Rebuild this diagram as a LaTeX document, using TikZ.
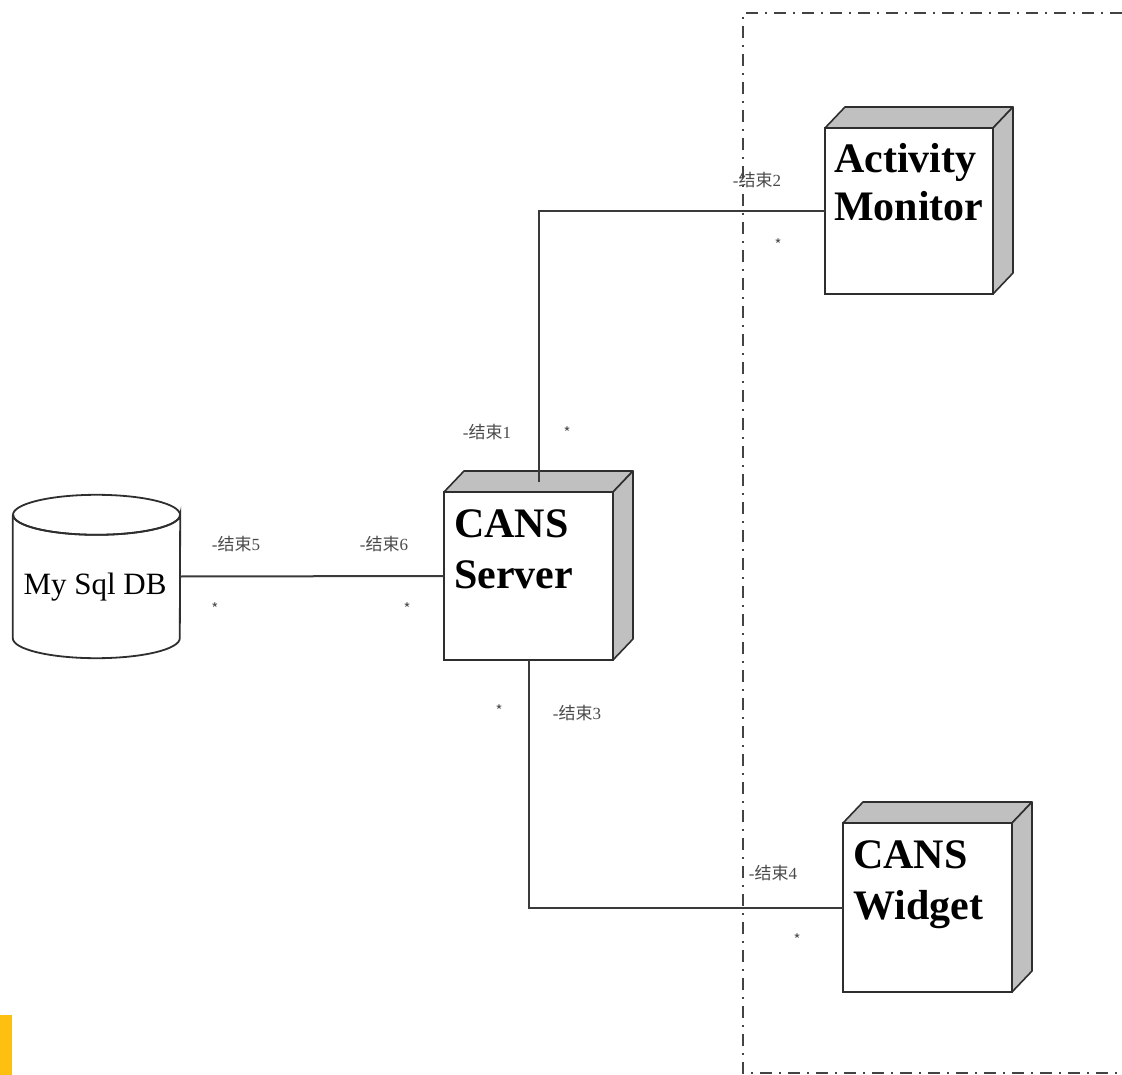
\documentclass[tikz,border=0pt]{standalone}
\usepackage{fontspec}
\setmainfont{Liberation Serif}
\newfontfamily\cjk{Noto Sans CJK SC}
\usetikzlibrary{calc}

\definecolor{edge}{HTML}{2E2E2E}
\definecolor{wire}{HTML}{3A3A3A}
\definecolor{side}{HTML}{C0C0C0}
\definecolor{tag}{HTML}{4A4A4A}
\definecolor{marker}{HTML}{FDC010}

\newcommand\roleend[1]{-{\cjk 结束}#1}

\tikzset{
  front/.style={draw=edge, line width=2pt, fill=white, inner sep=0pt, outer sep=0pt},
  face/.style={draw=edge, line width=1.6pt, fill=side, line join=round},
  title/.style={font=\fontsize{42}{49}\selectfont\bfseries, inner sep=0pt, anchor=base west},
  wirestyle/.style={draw=wire, line width=2pt},
  endtag/.style={font=\fontsize{17}{20}\selectfont, text=tag, inner sep=0pt},
  star/.style={font=\cjk\fontsize{15}{18}\selectfont, text=tag, inner sep=0pt},
  border/.style={draw=edge!90, line width=2.4pt, dash pattern=on 12pt off 7pt on 2pt off 7pt},
}

\begin{document}
\begin{tikzpicture}[x=1pt, y=-1pt]
\useasboundingbox (0,0) rectangle (1122,1075);

% client-side boundary
\draw[border] (1122,13) -- (743,13) -- (743,1073) -- (1122,1073);

% corner marker
\fill[marker] (0,1015) rectangle (12,1075);

% node boxes (front faces)
\node[front, minimum width=169pt, minimum height=168pt] (srv) at (528.5,576) {};
\node[front, minimum width=168pt, minimum height=166pt] (am) at (909,211) {};
\node[front, minimum width=169pt, minimum height=169pt] (wd) at (927.5,907.5) {};

% 3D top and side faces
\foreach \n in {srv,am,wd} {
  \draw[face] (\n.north west) -- ++(20,-21) -- ($(\n.north east)+(20,-21)$) -- (\n.north east) -- cycle;
  \draw[face] (\n.north east) -- ++(20,-21) -- ($(\n.south east)+(20,-21)$) -- (\n.south east) -- cycle;
  \draw[edge, line width=2pt] (\n.north west) rectangle (\n.south east);
}

% node titles
\node[title] (srvA) at ($(srv.north west)+(10,45)$) {CANS};
\node[title] (srvB) at ($(srv.north west)+(10,96)$) {Server};
\node[title] (amA) at ($(am.north west)+(9,45)$) {Activity};
\node[title] (amB) at ($(am.north west)+(9,93)$) {Monitor};
\node[title] (wdA) at ($(wd.north west)+(10,45)$) {CANS};
\node[title] (wdB) at ($(wd.north west)+(10,96)$) {Widget};

% database cylinder
\node[inner sep=0pt, minimum width=167pt, minimum height=123pt] (db) at (96.5,576.5) {};
\draw[edge, line width=1.8pt, fill=white]
  (db.north west) -- (db.south west) arc[start angle=180, end angle=360, x radius=83.5pt, y radius=20pt]
  -- (db.north east) arc[start angle=0, end angle=-180, x radius=83.5pt, y radius=20pt];
\draw[edge, line width=1.8pt] (db.north) ellipse[x radius=83.5pt, y radius=20pt];
\node[font=\fontsize{31}{36}\selectfont, inner sep=0pt] (dbt) at (95,587) {My Sql DB};

% connectors
\draw[wirestyle] (db.east) -- (srv.west);
\draw[wirestyle] ($(srv.north)+(10,-10.5)$) |- (am.west);
\draw[wirestyle] (srv.south) |- (wd.west);

% association end labels
\node[endtag] (e1) at (487,432) {\roleend{1}};
\node[endtag] (e2) at (757,180) {\roleend{2}};
\node[endtag] (e3) at (577,713) {\roleend{3}};
\node[endtag] (e4) at (773,873) {\roleend{4}};
\node[endtag] (e5) at (236,544) {\roleend{5}};
\node[endtag] (e6) at (384,544) {\roleend{6}};

\node[star] (m1) at (567,433) {*};
\node[star] (m2) at (778,245) {*};
\node[star] (m3) at (499,711) {*};
\node[star] (m4) at (797,940) {*};
\node[star] (m5) at (215,609) {*};
\node[star] (m6) at (407,609) {*};
\end{tikzpicture}
\end{document}
